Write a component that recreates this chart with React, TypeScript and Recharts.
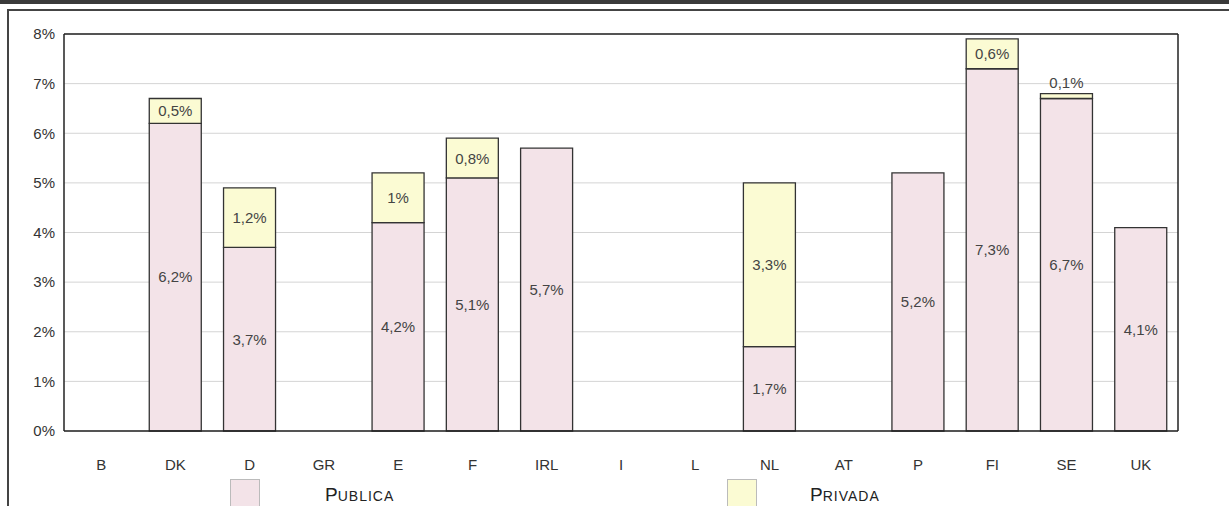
import { BarChart, Bar, XAxis, YAxis, CartesianGrid, LabelList, Legend } from 'recharts';

// valores (% do PIB)
const countries = ['B', 'DK', 'D', 'GR', 'E', 'F', 'IRL', 'I', 'L', 'NL', 'AT', 'P', 'FI', 'SE', 'UK'];
const publica = [null, 6.2, 3.7, null, 4.2, 5.1, 5.7, null, null, 1.7, null, 5.2, 7.3, 6.7, 4.1];
const privada = [null, 0.5, 1.2, null, 1.0, 0.8, null, null, null, 3.3, null, null, 0.6, 0.1, null];
const yTicks = [0, 1, 2, 3, 4, 5, 6, 7, 8];

const PINK = '#f3e3e8';
const YELLOW = '#fbfbd3';
const FONT = '"Liberation Sans", Arial, Helvetica, sans-serif';

const data = countries.map((c, i) => ({ name: c, publica: publica[i], privada: privada[i] }));

const fmt = (v: number) => String(v).replace('.', ',') + '%';

function PrivLabel(props: any) {
  const { x, y, width, height, value } = props;
  if (value == null) return null;
  const cx = x + width / 2;
  const small = height < 14;
  return (
    <text
      x={cx}
      y={small ? y - 6 : y + height / 2}
      textAnchor="middle"
      dominantBaseline={small ? 'auto' : 'central'}
      fontSize={15}
      fill="#444"
      fontFamily={FONT}
    >
      {fmt(value)}
    </text>
  );
}

// legenda em versalete, como no original
function SmallCaps({ text }: { text: string }) {
  return (
    <span>
      <span style={{ fontSize: 19 }}>{text[0]}</span>
      <span style={{ fontSize: 14, letterSpacing: 1 }}>{text.slice(1).toUpperCase()}</span>
    </span>
  );
}

function LegendBox() {
  const item = (left: number, color: string, text: string, textLeft: number) => (
    <>
      <div style={{ position: 'absolute', left, top: 479, width: 30, height: 30, background: color, border: '1px solid #bbb', boxSizing: 'border-box' }} />
      <div style={{ position: 'absolute', left: textLeft, top: 484, color: '#222', fontFamily: FONT, whiteSpace: 'nowrap', lineHeight: '22px' }}>
        <SmallCaps text={text} />
      </div>
    </>
  );
  return (
    <div style={{ position: 'relative', height: 0 }}>
      {item(230, PINK, 'Publica', 325)}
      {item(727, YELLOW, 'Privada', 810)}
    </div>
  );
}

export default function App() {
  return (
    <div style={{ position: 'relative', width: 1229, height: 506, background: '#fff', overflow: 'hidden', fontFamily: FONT }}>
      <style>{'body{margin:0}'}</style>
      <div style={{ position: 'absolute', left: 0, top: 0, width: 1229, height: 4, background: '#3a3a3a' }} />
      <div style={{ position: 'absolute', left: 7, top: 9, width: 1222, height: 2, background: '#444' }} />
      <div style={{ position: 'absolute', left: 7, top: 9, width: 2, height: 497, background: '#444' }} />
      <BarChart
        width={1229}
        height={506}
        data={data}
        margin={{ top: 33, right: 50, bottom: 45, left: 0 }}
        barSize={52}
        style={{ position: 'absolute', left: 0, top: 0 }}
      >
        <CartesianGrid vertical={false} stroke="#d4d4d4" />
        <XAxis
          dataKey="name"
          height={30}
          axisLine={{ stroke: '#222', strokeWidth: 1.5 }}
          tickLine={false}
          tickMargin={22}
          tick={{ fontSize: 15, fill: '#333', fontFamily: FONT }}
          interval={0}
        />
        <XAxis xAxisId="top" orientation="top" dataKey="name" height={1} tick={false} tickLine={false} axisLine={{ stroke: '#222', strokeWidth: 1.5 }} />
        <YAxis
          width={64}
          domain={[0, 8]}
          ticks={yTicks}
          tickFormatter={(v: number) => v + '%'}
          axisLine={{ stroke: '#222', strokeWidth: 1.5 }}
          tickLine={false}
          tickMargin={3}
          tick={{ fontSize: 15, fill: '#333', fontFamily: FONT }}
          interval={0}
        />
        <YAxis yAxisId="right" orientation="right" width={1} domain={[0, 8]} tick={false} tickLine={false} axisLine={{ stroke: '#222', strokeWidth: 1.5 }} />
        <Bar dataKey="publica" stackId="a" fill={PINK} stroke="#333" strokeWidth={1.3} isAnimationActive={false}>
          <LabelList dataKey="publica" position="center" formatter={(v: any) => (v == null ? '' : fmt(v))} style={{ fontSize: 15, fill: '#444', fontFamily: FONT }} />
        </Bar>
        <Bar dataKey="privada" stackId="a" fill={YELLOW} stroke="#333" strokeWidth={1.3} isAnimationActive={false}>
          <LabelList dataKey="privada" content={PrivLabel} />
        </Bar>
        <Legend content={() => <LegendBox />} wrapperStyle={{ top: 0, left: 0, bottom: 'auto', width: 1229, height: 0 }} />
      </BarChart>
    </div>
  );
}
